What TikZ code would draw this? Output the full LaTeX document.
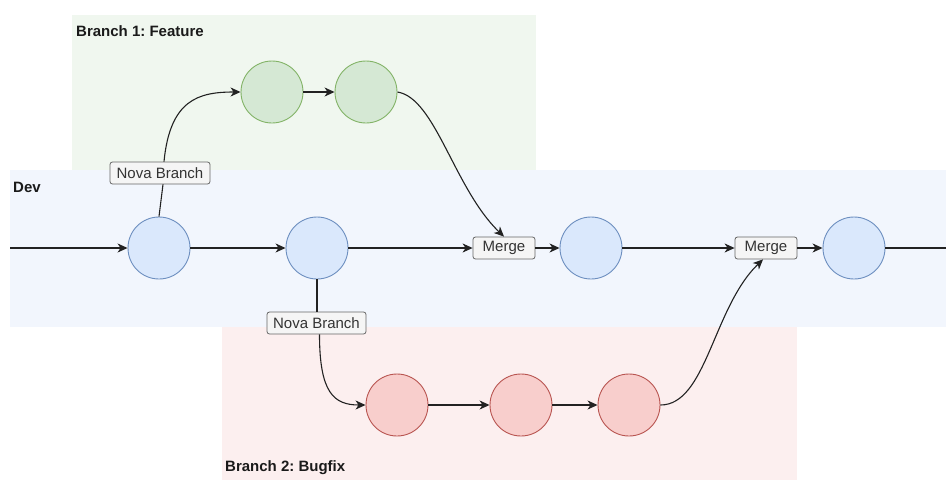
\documentclass[tikz,border=0pt]{standalone}
\usepackage{fontspec}
\setmainfont{Liberation Sans}
\usetikzlibrary{arrows.meta,calc}
\frenchspacing

\definecolor{featbg}{HTML}{F0F7EF}
\definecolor{devbg}{HTML}{F2F6FD}
\definecolor{fixbg}{HTML}{FCEFEF}
\definecolor{featfill}{HTML}{D5E8D4}
\definecolor{featline}{HTML}{82B366}
\definecolor{devfill}{HTML}{DAE8FC}
\definecolor{devline}{HTML}{6C8EBF}
\definecolor{fixfill}{HTML}{F8CECC}
\definecolor{fixline}{HTML}{B85450}
\definecolor{tagfill}{HTML}{F5F5F5}
\definecolor{tagline}{HTML}{666666}
\definecolor{tagtext}{HTML}{333333}
\definecolor{edge}{HTML}{222222}
\definecolor{titletext}{HTML}{1A1A1A}

\tikzset{
  commit/.style={circle, minimum size=62pt, inner sep=0pt, line width=0.9pt},
  featcommit/.style={commit, draw=featline, fill=featfill},
  devcommit/.style={commit, draw=devline, fill=devfill},
  fixcommit/.style={commit, draw=fixline, fill=fixfill},
  tag/.style={draw=tagline, fill=tagfill, text=tagtext, rounded corners=2.5pt,
    line width=0.8pt, font=\fontsize{15}{15}\selectfont, minimum height=22pt,
    inner xsep=3pt, inner ysep=0pt},
  lanetitle/.style={anchor=west, inner sep=0pt, text=titletext,
    font=\fontsize{15}{15}\selectfont\bfseries},
  link/.style={draw=edge, line width=1.1pt},
  arr/.style={link, -{Stealth[length=10pt,width=9pt,inset=3pt]}}
}

\begin{document}
\begin{tikzpicture}[x=1pt,y=-1pt]
\useasboundingbox (0,0) rectangle (946,480);

% lanes
\fill[featbg] (72,15) rectangle (536,170);
\fill[devbg] (10,170) rectangle (946,327);
\fill[fixbg] (222,327) rectangle (797,480);

\node[lanetitle] (tfeat) at (76,31) {Branch 1: Feature};
\node[lanetitle] (tdev) at (13,187) {Dev};
\node[lanetitle] (tfix) at (225,468) {Branch 2: Bugfix};

% dev line
\coordinate (devin) at (10,248);
\coordinate (devout) at (946,248);
\node[devcommit] (d1) at (159,248) {};
\node[devcommit] (d2) at (317,248) {};
\node[tag, minimum width=62pt] (m1) at (504,248) {Merge};
\node[devcommit] (d3) at (591,248) {};
\node[tag, minimum width=62pt] (m2) at (766,248) {Merge};
\node[devcommit] (d4) at (854,248) {};

% feature branch
\node[featcommit] (f1) at (272,92) {};
\node[featcommit] (f2) at (366,92) {};

% bugfix branch
\node[fixcommit] (b1) at (397,405) {};
\node[fixcommit] (b2) at (521,405) {};
\node[fixcommit] (b3) at (629,405) {};

% branch labels
\node[tag, minimum width=100pt] (n1) at (160,173) {Nova Branch};
\node[tag, minimum width=99pt] (n2) at (316.5,323) {Nova Branch};

% dev history
\draw[arr] (devin) -- (d1);
\draw[arr] (d1) -- (d2);
\draw[arr] (d2) -- (m1);
\draw[arr] (m1) -- (d3);
\draw[arr] (d3) -- (m2);
\draw[arr] (m2) -- (d4);
\draw[link] (d4) -- (devout);

% feature branch edges
\draw[link] (d1.north) -- ($(n1.south)+(3,0)$);
\draw[arr] ($(n1.north)+(4,0)$) .. controls +(6,-62) and +(-42,0) .. (f1.west);
\draw[arr] (f1) -- (f2);
\draw[arr] (f2.east) .. controls +(38,6) and +(-50,-48) .. (m1.north);

% bugfix branch edges
\draw[link] (d2.south) -- ($(n2.north)+(0.5,0)$);
\draw[arr] ($(n2.south)+(3,0)$) .. controls +(0,58) and +(-32,0) .. (b1.west);
\draw[arr] (b1) -- (b2);
\draw[arr] (b2) -- (b3);
\draw[arr] (b3.east) .. controls +(46,0) and +(-50,48) .. ($(m2.south)+(-3,0)$);
\end{tikzpicture}
\end{document}
